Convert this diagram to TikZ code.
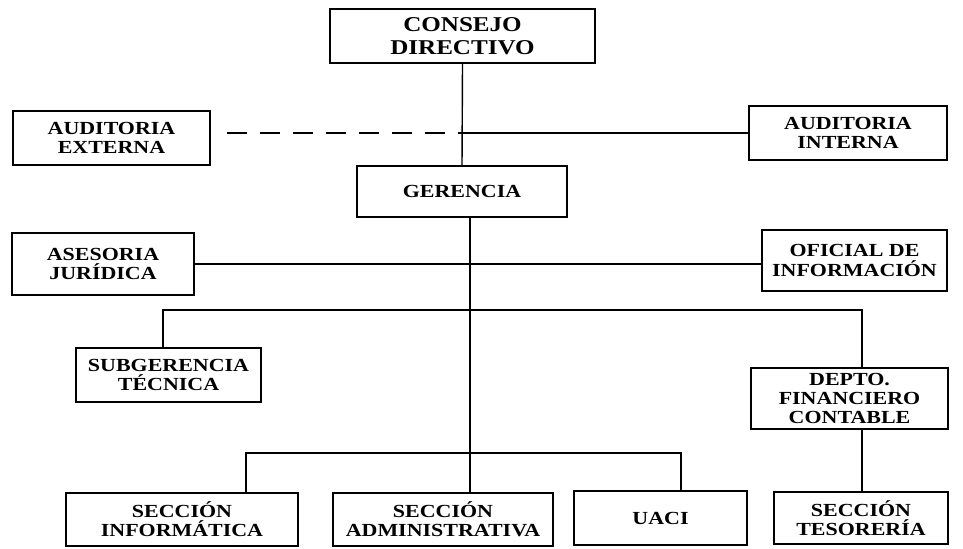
\documentclass[tikz,border=0pt]{standalone}
\usepackage{fontspec}
\setmainfont[FakeStretch=1.19]{Liberation Serif}
\tikzset{
  unit/.style={draw, line width=1pt, align=center, inner sep=2pt,
    font=\fontsize{10.5}{11}\selectfont\bfseries},
  link/.style={line width=0.8pt},
  dashlink/.style={line width=0.8pt, dash pattern=on 0.4cm off 0.26cm}
}
\begin{document}
\begin{tikzpicture}[x=0.02cm, y=-0.02cm]
  \useasboundingbox (0,0) rectangle (963,548);

  % top levels
  \node[unit, minimum width=5.3cm, minimum height=1.08cm,
    font=\fontsize{12}{13}\selectfont\bfseries] (consejo) at (462.5,36) {CONSEJO\\DIRECTIVO};
  \node[unit, minimum width=3.94cm, minimum height=1.08cm] (audext) at (111.5,138) {AUDITORIA\\EXTERNA};
  \node[unit, minimum width=3.96cm, minimum height=1.08cm] (audint) at (848,133) {AUDITORIA\\INTERNA};
  \node[unit, minimum width=4.2cm, minimum height=1.02cm] (gerencia) at (462,191.5) {GERENCIA};
  \node[unit, minimum width=3.64cm, minimum height=1.24cm] (asesoria) at (103,264) {ASESORIA\\JURÍDICA};
  \node[unit, minimum width=3.7cm, minimum height=1.22cm] (oficial) at (854.5,260.5) {OFICIAL DE\\INFORMACIÓN};

  % second level
  \node[unit, minimum width=3.7cm, minimum height=1.08cm] (subger) at (168.5,375) {SUBGERENCIA\\TÉCNICA};
  \node[unit, minimum width=3.94cm, minimum height=1.22cm] (depto) at (849.5,398.5) {DEPTO.\\FINANCIERO\\CONTABLE};

  % sections
  \node[unit, minimum width=4.64cm, minimum height=1.06cm] (informatica) at (182,519.5) {SECCIÓN\\INFORMÁTICA};
  \node[unit, minimum width=4.4cm, minimum height=1.06cm] (administrativa) at (443,519.5) {SECCIÓN\\ADMINISTRATIVA};
  \node[unit, minimum width=3.46cm, minimum height=1.08cm] (uaci) at (660.5,518) {UACI};
  \node[unit, minimum width=3.48cm, minimum height=1.04cm] (tesoreria) at (861,518) {SECCIÓN\\TESORERÍA};

  % joints
  \coordinate (jaud) at (462,133);
  \coordinate (jext) at (227,133);
  \coordinate (jtop) at (470,217);
  \coordinate (jleft) at (163,310);
  \coordinate (jright) at (862,310);
  \coordinate (jsecl) at (246,453);
  \coordinate (jsecr) at (681,453);

  \draw[link] (consejo.south) -- (gerencia.north);
  \draw[dashlink] (jext) -- (jaud);
  \draw[link] (jaud) -- (audint.west);
  \draw[link] (asesoria.east) -- (asesoria.east -| oficial.west);
  \draw[link] (jtop) -- (jtop |- administrativa.north);
  \draw[link] (jleft |- subger.north) -- (jleft) -- (jright) -- (jright |- depto.north);
  \draw[link] (jright |- depto.south) -- (jright |- tesoreria.north);
  \draw[link] (jsecl |- informatica.north) -- (jsecl) -- (jsecr) -- (jsecr |- uaci.north);
\end{tikzpicture}
\end{document}
